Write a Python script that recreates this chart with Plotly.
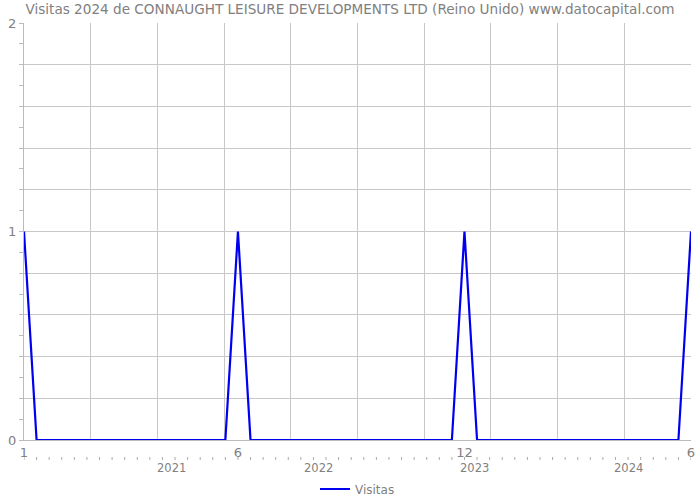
import plotly.graph_objects as go

# Monthly visits, Jan 2020 .. Jun 2024 (54 months)
months = list(range(54))
visits = [0] * 54
for i in (0, 17, 35, 53):
    visits[i] = 1

x_tick_vals = [0, 17, 35, 53]
x_tick_text = ["1", "6", "12", "6"]
year_labels = ["2021", "2022", "2023", "2024"]
year_pos = [11.7, 23.4, 35.8, 48.0]

font = "DejaVu Sans"
grey = "#808080"

fig = go.Figure()
fig.add_trace(go.Scatter(x=months, y=visits, mode="lines", name="Visitas",
                         line=dict(color="#0000f0", width=2.2)))

W, H = 700, 500
ml, mr, mt, mb = 24, 9, 23, 60
ph = H - mt - mb

def py(pix):
    return (H - mb - pix) / ph

shapes = []
for m in months:
    shapes.append(dict(type="line", xref="x", yref="paper", x0=m, x1=m,
                       y0=py(457), y1=py(460), line=dict(color="#aaa", width=1)))

annotations = []
for t, p in zip(year_labels, year_pos):
    annotations.append(dict(text=t, x=p, y=py(468), xref="x", yref="paper",
                            showarrow=False, font=dict(family=font, size=11.5, color=grey),
                            xanchor="center", yanchor="middle"))

yv = [round(i * 0.2, 1) for i in range(11)]
yt = [str(int(v)) if v in (0, 1, 2) else "" for v in yv]

fig.update_layout(
    width=W, height=H,
    margin=dict(l=ml, r=mr, t=mt, b=mb, autoexpand=False),
    plot_bgcolor="white", paper_bgcolor="white",
    title=dict(text="Visitas 2024 de CONNAUGHT LEISURE DEVELOPMENTS LTD (Reino Unido) www.datocapital.com",
               x=0.5, xanchor="center", y=1 - 9 / H, yanchor="middle",
               font=dict(family=font, size=13.6, color=grey)),
    showlegend=True,
    legend=dict(orientation="h", x=0.5, xanchor="center", y=py(489), yanchor="middle",
                font=dict(family=font, size=12, color=grey)),
    shapes=shapes, annotations=annotations,
    xaxis=dict(range=[0, 53], tickvals=x_tick_vals, ticktext=x_tick_text, automargin=False,
               showgrid=False, zeroline=False, showline=True, linecolor="#bbb",
               ticks="", tickfont=dict(family=font, size=13, color=grey),
               minor=dict(tick0=0, dtick=5.3, showgrid=True, gridcolor="#c8c8c8", ticks="")),
    yaxis=dict(range=[0, 2], tickvals=yv, ticktext=yt, showgrid=True, gridcolor="#c8c8c8",
               zeroline=False, showline=True, linecolor="#bbb", ticks="", automargin=False,
               ticklabelstandoff=4,
               tickfont=dict(family=font, size=13, color=grey),
               minor=dict(dtick=0.1, ticks="outside", ticklen=4, tickcolor="#bbb", showgrid=False)),
)

fig.write_html("out.html")
